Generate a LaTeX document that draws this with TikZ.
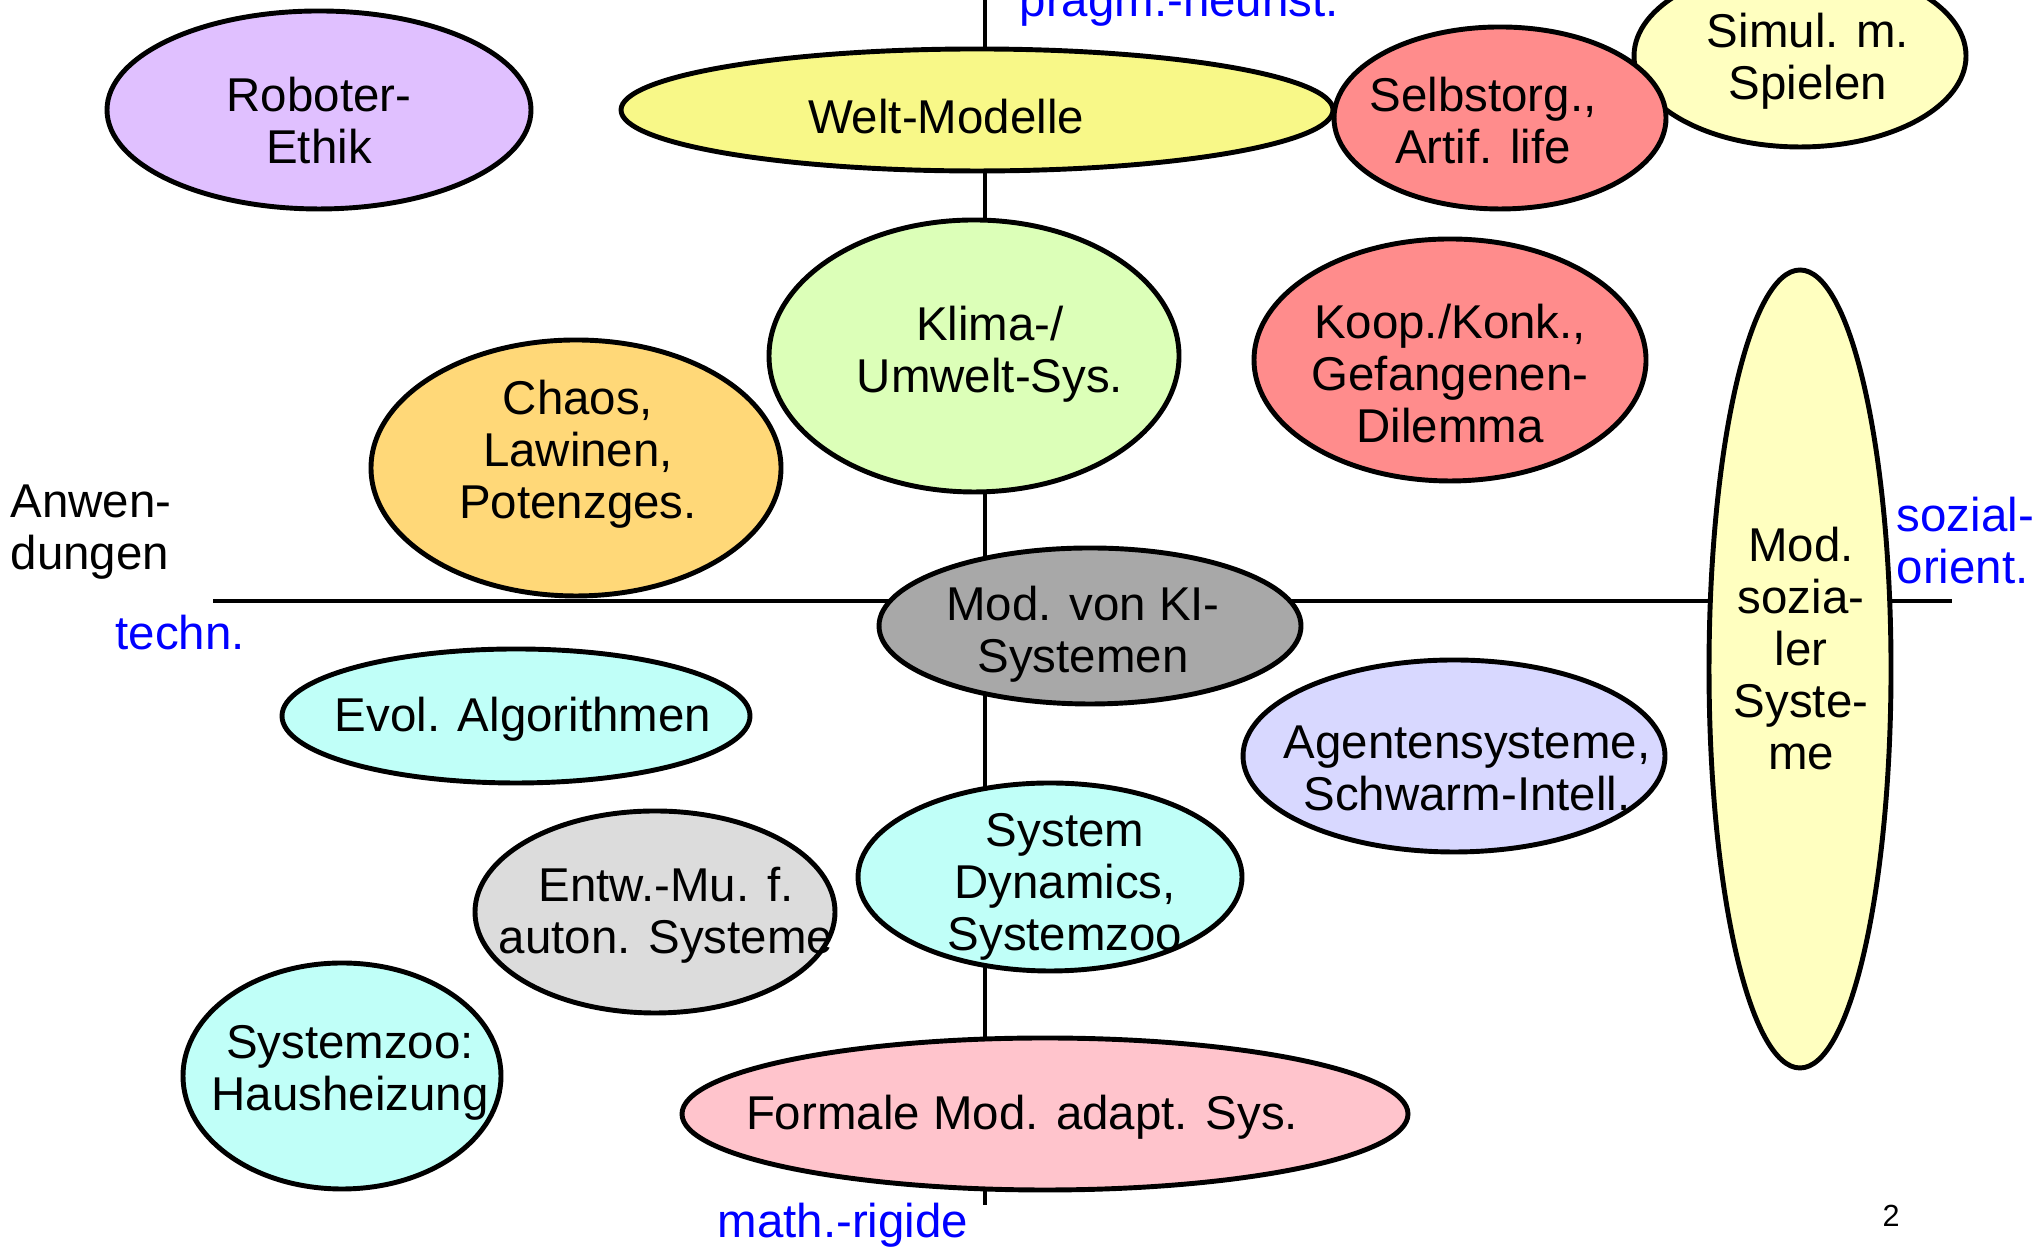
\documentclass[tikz,border=0pt]{standalone}
\usepackage{fontspec}
\setmainfont{Liberation Sans}
\usepackage{xcolor}
\definecolor{robot-purple}{RGB}{224,192,255}
\definecolor{welt-yellow}{RGB}{248,248,136}
\definecolor{light-red}{RGB}{255,140,140}
\definecolor{pale-yellow}{RGB}{255,255,192}
\definecolor{klima-green}{RGB}{220,255,184}
\definecolor{chaos-orange}{RGB}{255,216,120}
\definecolor{ki-gray}{RGB}{168,168,168}
\definecolor{pale-cyan}{RGB}{192,255,248}
\definecolor{entw-gray}{RGB}{220,220,220}
\definecolor{formal-pink}{RGB}{255,196,204}
\definecolor{agent-blue}{RGB}{216,216,255}
\usetikzlibrary{shapes.geometric}
\newcommand{\bodyfont}{\fontsize{13.5}{14.8}\selectfont}

\begin{document}
\begin{tikzpicture}[
	blob/.style={ellipse,draw,line width=1.4pt,inner sep=0pt},
	txt/.style={align=center,font=\bodyfont,inner sep=0pt},
	side/.style={align=left,font=\bodyfont,inner sep=0pt},
	axis/.style={line width=1.2pt}
	]
	\useasboundingbox (0,0) rectangle (20.36,12.51);

	\coordinate (N) at (9.85,12.51);
	\coordinate (S) at (9.85,0.46);
	\coordinate (W) at (2.13,6.50);
	\coordinate (E) at (19.52,6.50);

	\draw[axis] (N)--(S);
	\draw[axis] (W)--(E);

	% top row
	\node[blob,fill=robot-purple,minimum width=4.24cm,minimum height=1.98cm] (robot) at (3.19,11.41) {};
	\node[blob,fill=welt-yellow,minimum width=7.12cm,minimum height=1.22cm] (welt) at (9.77,11.41) {};
	\node[blob,fill=pale-yellow,minimum width=3.32cm,minimum height=1.82cm] (simul) at (18.00,11.95) {};
	\node[blob,fill=light-red,minimum width=3.32cm,minimum height=1.82cm] (selbst) at (15.00,11.33) {};

	% middle
	\node[blob,fill=klima-green,minimum width=4.10cm,minimum height=2.72cm] (klima) at (9.74,8.95) {};
	\node[blob,fill=chaos-orange,minimum width=4.10cm,minimum height=2.56cm] (chaos) at (5.76,7.83) {};
	\node[blob,fill=light-red,minimum width=3.92cm,minimum height=2.42cm] (koop) at (14.50,8.91) {};
	\node[blob,fill=pale-yellow,minimum width=1.82cm,minimum height=7.98cm] (sozial) at (18.00,5.82) {};
	\node[blob,fill=ki-gray,minimum width=4.22cm,minimum height=1.56cm] (ki) at (10.90,6.25) {};

	% bottom
	\node[blob,fill=pale-cyan,minimum width=4.68cm,minimum height=1.34cm] (evol) at (5.16,5.35) {};
	\node[blob,fill=entw-gray,minimum width=3.60cm,minimum height=2.02cm] (entw) at (6.55,3.39) {};
	\node[blob,fill=pale-cyan,minimum width=3.18cm,minimum height=2.26cm] (zoo) at (3.42,1.75) {};
	\node[blob,fill=pale-cyan,minimum width=3.84cm,minimum height=1.88cm] (sysdyn) at (10.50,3.74) {};
	\node[blob,fill=formal-pink,minimum width=7.26cm,minimum height=1.52cm] (formal) at (10.45,1.37) {};
	\node[blob,fill=agent-blue,minimum width=4.22cm,minimum height=1.92cm] (agent) at (14.54,4.95) {};

	% texts
	\node[txt] (robot-t) at (3.19,11.30) {Roboter-\\Ethik};
	\node[txt] (welt-t) at (9.46,11.34) {Welt-Modelle};
	\node[txt] (simul-t) at (18.08,11.90) {Simul. m.\\Spielen};
	\node[txt] (selbst-t) at (14.83,11.30) {Selbstorg.,\\Artif. life};
	\node[txt] (klima-t) at (9.90,8.97) {Klima-/\\Umwelt-Sys.};
	\node[txt] (chaos-t) at (5.78,7.97) {Chaos,\\Lawinen,\\Potenzges.};
	\node[txt] (koop-t) at (14.50,8.77) {Koop./Konk.,\\Gefangenen-\\Dilemma};
	\node[txt] (sozial-t) at (18.01,6.02) {Mod.\\sozia-\\ler\\Syste-\\me};
	\node[txt] (ki-t) at (10.83,6.17) {Mod. von KI-\\Systemen};
	\node[txt] (evol-t) at (5.23,5.32) {Evol. Algorithmen};
	\node[txt] (entw-t) at (6.66,3.36) {Entw.-Mu. f.\\auton. Systeme};
	\node[txt] (zoo-t) at (3.50,1.78) {Systemzoo:\\Hausheizung};
	\node[txt] (sysdyn-t) at (10.65,3.64) {System\\Dynamics,\\Systemzoo};
	\node[txt] (formal-t) at (10.22,1.34) {Formale Mod. adapt. Sys.};
	\node[txt] (agent-t) at (14.67,4.83) {Agentensysteme,\\Schwarm-Intell.};

	% axis labels
	\node[side,text=blue,anchor=base west] (heur) at (10.19,12.34) {pragm.-heurist.};
	\node[side,anchor=north west] (anw) at (0.10,7.67) {Anwen-\\dungen};
	\node[side,text=blue,anchor=base west] (techn) at (1.15,6.01) {techn.};
	\node[side,text=blue,anchor=north west] (soz) at (18.96,7.55) {sozial-\\orient.};
	\node[side,text=blue,anchor=base west] (math) at (7.17,0.13) {math.-rigide};
	\node[font=\fontsize{8.7}{10}\selectfont,inner sep=0pt,anchor=base] (page) at (18.91,0.24) {2};
\end{tikzpicture}
\end{document}
